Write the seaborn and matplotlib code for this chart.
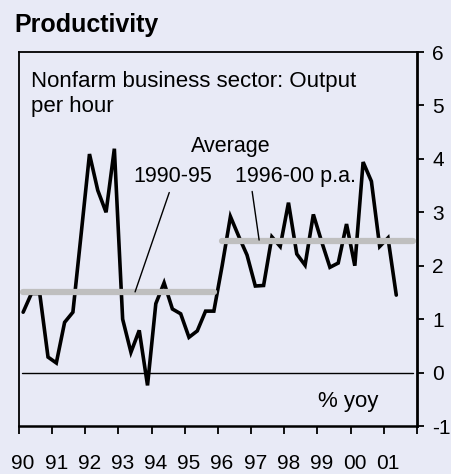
import numpy as np
import pandas as pd
import matplotlib
matplotlib.use("Agg")
import matplotlib.pyplot as plt
import matplotlib.transforms as mtransforms
import seaborn as sns

# Nonfarm business sector, output per hour, % yoy, quarterly 1990Q1-2001Q2
quarters = pd.period_range("1990Q1", "2001Q2", freq="Q")
productivity = [1.13, 1.48, 1.48, 0.29, 0.18, 0.94, 1.13, 2.60,
                4.09, 3.41, 3.00, 4.19, 1.00, 0.38, 0.79, -0.24,
                1.29, 1.68, 1.19, 1.10, 0.66, 0.78, 1.15, 1.15,
                2.00, 2.92, 2.55, 2.20, 1.62, 1.63, 2.54, 2.36,
                3.18, 2.22, 2.01, 2.96, 2.45, 1.97, 2.05, 2.78,
                2.00, 3.94, 3.58, 2.36, 2.52, 1.45]

# period averages (p.a.)
avg_periods = ["1990-95", "1996-00"]
avg_start = [1990.125, 1996.125]
avg_end = [1995.875, 2001.875]
avg_values = [1.50, 2.47]

year_ticks = list(range(1990, 2003))
year_labels = [f"{y % 100:02d}" for y in range(1990, 2002)] + [""]
y_ticks = [-1, 0, 1, 2, 3, 4, 5, 6]

BG = "#E8EAF6"
GREY = "#BFBFBF"

sns.set_theme(style="white", rc={"axes.facecolor": BG, "figure.facecolor": BG})
plt.rcParams["font.family"] = ["Liberation Sans", "DejaVu Sans"]
plt.rcParams["text.color"] = "black"

df = pd.DataFrame({
    "x": [q.year + (q.quarter - 0.5) / 4 for q in quarters],
    "value": productivity,
})
avg_df = pd.DataFrame({
    "period": np.repeat(avg_periods, 2),
    "x": [v for pair in zip(avg_start, avg_end) for v in pair],
    "value": np.repeat(avg_values, 2),
})

fig = plt.figure(figsize=(4.52, 4.74), dpi=100)
ax = fig.add_axes([19 / 452, 48 / 474, 398 / 452, 374 / 474])

ax.axhline(0, xmin=0.008, xmax=0.99, color="black", lw=1.0, zorder=1)
sns.lineplot(data=df, x="x", y="value", ax=ax, color="black", lw=2.6,
             zorder=2, solid_joinstyle="miter")
sns.lineplot(data=avg_df, x="x", y="value", units="period", estimator=None,
             ax=ax, color=GREY, lw=4.5, zorder=3, solid_capstyle="round")

ax.set_xlim(1990, 2002)
ax.set_ylim(-1, 6)
ax.set_xlabel("")
ax.set_ylabel("")

ax.yaxis.tick_right()
ax.set_yticks(y_ticks)
ax.set_yticklabels([str(v) for v in y_ticks])
ax.set_xticks(year_ticks)
ax.set_xticklabels(year_labels)
ax.tick_params(axis="y", which="major", direction="out", length=5, width=1.3,
               pad=6, labelsize=15, colors="black", right=True, left=False)
ax.tick_params(axis="x", which="major", direction="out", length=5.5, width=1.3,
               pad=15, labelsize=15, colors="black", bottom=True)
offset = mtransforms.ScaledTranslation(4 / 100, 0, fig.dpi_scale_trans)
for lab in ax.get_xticklabels():
    lab.set_transform(lab.get_transform() + offset)

for side in ["left", "top", "right", "bottom"]:
    ax.spines[side].set_visible(True)
    ax.spines[side].set_color("black")
ax.spines["left"].set_linewidth(1.3)
ax.spines["top"].set_linewidth(1.3)
ax.spines["right"].set_linewidth(2.0)
ax.spines["bottom"].set_linewidth(1.8)

# texts
fig.text(14 / 452, 1 - 32 / 474, "Productivity", fontsize=18, fontweight="bold",
         va="baseline", ha="left")
ax.text(0.030, (426 - 86.7) / 374, "Nonfarm business sector: Output",
        transform=ax.transAxes, fontsize=16, va="baseline", ha="left")
ax.text(0.030, (426 - 111.7) / 374, "per hour",
        transform=ax.transAxes, fontsize=16, va="baseline", ha="left")
ax.text(1996.39, 4.12, "Average", fontsize=15.5, ha="center", va="baseline")
ax.text(1993.45, 3.56, "1990-95", fontsize=15.5, ha="left", va="baseline")
ax.text(1996.51, 3.56, "1996-00 p.a.", fontsize=15.5, ha="left", va="baseline")
ax.text(1999.01, -0.64, "% yoy", fontsize=16, ha="left", va="baseline")

# leader lines
ax.plot([1994.53, 1993.50], [3.37, 1.51], color="black", lw=1.0, zorder=4)
ax.plot([1997.03, 1997.24], [3.39, 2.48], color="black", lw=1.0, zorder=4)

fig.savefig("out.png", dpi=100, facecolor=BG)
